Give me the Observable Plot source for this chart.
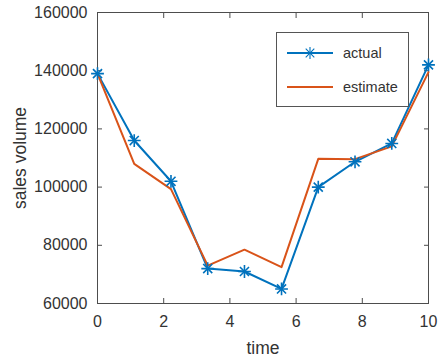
<!DOCTYPE html>
<html><head><meta charset="utf-8">
<script src="https://cdn.jsdelivr.net/npm/d3@7"></script>
<script src="https://cdn.jsdelivr.net/npm/@observablehq/plot@0.6"></script>
<style>
body{margin:0;background:#fff;}
#chart{position:relative;width:440px;height:357px;font-family:"Liberation Sans",Arial,sans-serif;}
#legend{position:absolute;left:276px;top:32px;width:131px;height:73px;border:1px solid #555;background:#fff;}
</style></head><body><div id="chart"><div id="legend"></div></div>
<script>
const time = [0, 1.11, 2.22, 3.33, 4.44, 5.56, 6.67, 7.78, 8.89, 10];
const actual = [139000, 116000, 102000, 72000, 71000, 65000, 100000, 108700, 115000, 142000];
const estimate = [139000, 108000, 99300, 73000, 78500, 72500, 109700, 109600, 114000, 139500];
const seriesNames = ["actual", "estimate"];
const seriesColors = ["#0072BD", "#D95319"];
const xTicks = [0, 2, 4, 6, 8, 10];
const yTicks = [60000, 80000, 100000, 120000, 140000, 160000];
const xLabel = "time";
const yLabel = "sales volume";

const actualData = time.map((t, i) => ({series: "actual", time: t, value: actual[i]}));
const estimateData = time.map((t, i) => ({series: "estimate", time: t, value: estimate[i]}));
const axisColor = "#4d4d4d";
const textColor = "#333";
const blank = () => "";

const plot = Plot.plot({
  width: 440, height: 357,
  marginLeft: 97, marginRight: 12, marginTop: 12, marginBottom: 54,
  style: {fontFamily: "'Liberation Sans', Arial, sans-serif", fontSize: "16px", color: textColor, background: "white", overflow: "visible"},
  x: {domain: [0, 10], label: null},
  y: {domain: [60000, 160000], label: null},
  color: {domain: seriesNames, range: seriesColors},
  marks: [
    Plot.frame({stroke: axisColor, strokeWidth: 1}),
    Plot.axisX(xTicks, {anchor: "bottom", tickSize: -5, tickFormat: blank, label: null, stroke: axisColor}),
    Plot.axisX(xTicks, {anchor: "top", tickSize: -5, tickFormat: blank, label: null, stroke: axisColor}),
    Plot.axisY(yTicks, {anchor: "left", tickSize: -5, tickFormat: blank, label: null, stroke: axisColor}),
    Plot.axisY(yTicks, {anchor: "right", tickSize: -5, tickFormat: blank, label: null, stroke: axisColor}),
    Plot.axisX(xTicks, {anchor: "bottom", tickSize: 0, tickPadding: 12, fontSize: 16, fill: textColor, label: null}),
    Plot.axisY(yTicks, {anchor: "left", tickSize: 0, tickPadding: 10, fontSize: 16, fill: textColor, label: null, tickFormat: d => String(d)}),
    Plot.axisX([], {anchor: "bottom", tickSize: 0, label: xLabel, labelAnchor: "center", labelArrow: "none", labelOffset: 50, fontSize: 17.5, fill: textColor}),
    Plot.axisY([], {anchor: "left", tickSize: 0, label: yLabel, labelAnchor: "center", labelArrow: "none", labelOffset: 84, fontSize: 17.5, fill: textColor}),
    Plot.line(actualData, {x: "time", y: "value", stroke: "series", strokeWidth: 2}),
    Plot.line(estimateData, {x: "time", y: "value", stroke: "series", strokeWidth: 2}),
    Plot.dot(actualData, {x: "time", y: "value", symbol: "plus", r: 4.2, stroke: "series", strokeWidth: 1.6}),
    Plot.dot(actualData, {x: "time", y: "value", symbol: "times", r: 4.2, stroke: "series", strokeWidth: 1.6})
  ]
});
document.getElementById("chart").prepend(plot);

// legend
const lg = d3.select("#legend").append("svg").attr("width", 131).attr("height", 73)
  .style("font-family", "'Liberation Sans', Arial, sans-serif").style("font-size", "14.5px");
seriesNames.forEach((name, i) => {
  const y = 20 + i * 34;
  const g = lg.append("g");
  g.append("line").attr("x1", 10).attr("x2", 56).attr("y1", y).attr("y2", y)
    .attr("stroke", seriesColors[i]).attr("stroke-width", 2);
  if (i === 0) {
    g.append("path").attr("d", d3.symbol().type(d3.symbolPlus).size(50)()).attr("transform", `translate(33,${y})`)
      .attr("fill", "none").attr("stroke", seriesColors[i]).attr("stroke-width", 1.1);
    g.append("path").attr("d", d3.symbol().type(d3.symbolTimes).size(50)()).attr("transform", `translate(33,${y})`)
      .attr("fill", "none").attr("stroke", seriesColors[i]).attr("stroke-width", 1.1);
  }
  g.append("text").attr("x", 66).attr("y", y).attr("dy", "0.35em").attr("fill", textColor).text(name);
});
</script></body></html>
